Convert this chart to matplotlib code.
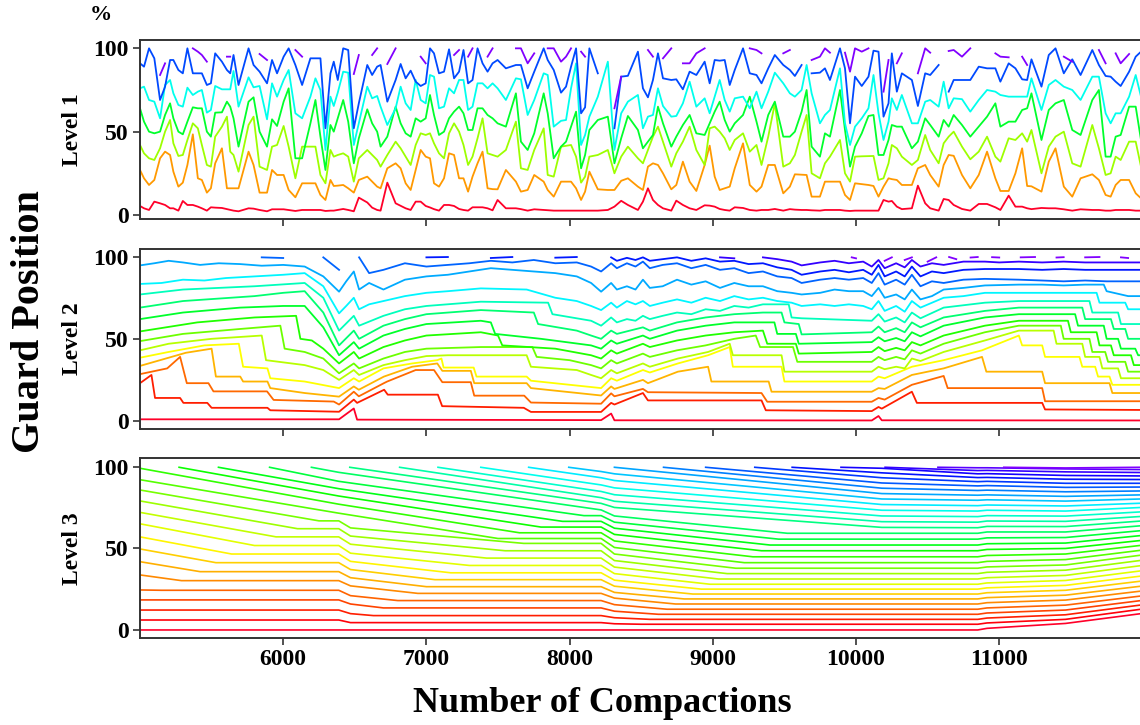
import numpy as np
import matplotlib
matplotlib.use("Agg")
import matplotlib.pyplot as plt

nan = np.nan

# --- Level 1: 7 guards, values read at a shared set of compaction counts ---
l1_x = [5000, 5028, 5063, 5100, 5140, 5175, 5210, 5233, 5268, 5299, 5331, 5369, 5404, 5432, 5467, 5495,
        5525, 5572, 5607, 5630, 5653, 5688, 5758, 5793, 5835, 5887, 5922, 5957, 6003, 6038, 6085, 6132,
        6190, 6225, 6260, 6295, 6330, 6353, 6381, 6419, 6454, 6493, 6528, 6587, 6621, 6656,
        6680, 6727, 6785, 6820, 6855, 6890, 6925, 6960, 6995, 7025, 7053, 7088, 7123, 7158, 7193, 7228,
        7259, 7291, 7322, 7357, 7392, 7427, 7462, 7497, 7555, 7625, 7660, 7707, 7753, 7819, 7847, 7889,
        7940, 7975, 8010, 8045, 8080, 8108, 8138, 8197, 8267, 8313, 8360, 8407, 8477, 8512, 8547, 8582,
        8617, 8652, 8710, 8745, 8791, 8838, 8885, 8943, 8978, 9013, 9048, 9083, 9118, 9153, 9211, 9258, 9305,
        9340, 9387, 9433, 9492, 9538, 9573, 9620, 9655, 9690, 9748, 9783, 9818, 9888, 9923, 9958, 9993,
        10040, 10087, 10122, 10157, 10192, 10227, 10250, 10285, 10320, 10390, 10432, 10483, 10518, 10577,
        10612, 10647, 10682, 10740, 10798, 10857, 10915, 10973, 11008, 11066, 11113, 11160, 11195, 11225,
        11295, 11346, 11393, 11451, 11510, 11568, 11650, 11696, 11743, 11778, 11813, 11848, 11907, 11953, 11990]

l1_g1 = [5.4, 4, 3, 8, 7, 6, 4, 4, 2.6, 8.4, 6, 6, 5, 4, 2.6, 4.6, 4.4, 4.2, 3.5, 3, 2.6, 2.2, 4, 3.8, 3,
         2.2, 3.4, 3.4, 3.4, 3, 2.4, 3, 3, 3, 3, 2.4, 2.6, 2.6, 3, 3.6, 3, 2.2, 10.4, 7.5, 4.4, 3,
         2.6, 19.4, 7, 5.5, 4, 3, 8, 8, 5.4, 4.5, 3.5, 2.6, 6, 6, 5.4, 3.6, 3, 2.6, 4.6, 4.6, 4.6, 4, 2.8,
         9, 4, 4, 3.5, 2.6, 3.4, 3, 2.8, 2.6, 2.6, 2.6, 2.6, 2.6, 2.6, 2.6, 2.6, 2.6, 3, 5, 8.5, 6, 3,
         8, 16, 9, 6, 4, 2.6, 8.6, 6, 4, 3, 5.8, 5.6, 5, 3.6, 3, 2.6, 4.6, 4.2, 3, 2.6,
         3, 3, 3.6, 2.6, 3.5, 3.2, 3, 3, 2.8, 2.6, 3, 3, 3, 2.6, 2.4, 2.6, 2.6, 2.6, 2.6, 2.6, 9, 8, 8.4,
         5, 3.5, 4, 17.6, 7, 4, 2.6, 9.6, 9, 6, 3.6, 2.6, 6.6, 6.6, 4.6, 3, 11.6, 5, 5, 4, 3.5, 4.2, 4, 4,
         3.4, 2.6, 3.4, 3, 3, 2.6, 2.6, 3, 3, 3, 2.6, 2.6]
l1_g2 = [27, 22, 18, 21, 34, 38, 36, 26, 17, 19.4, 30, 48.4, 22, 21, 13.4, 16, 31, 40, 16, 16, 16, 16, 38,
         30, 13.4, 13.4, 27, 24, 24, 15, 10.6, 19, 19, 19, 12, 9, 21, 17.4, 17.6, 18, 16, 13.4, 21, 23, 20, 17,
         16, 28, 31, 28, 19, 15, 27, 39, 35, 34, 19, 17, 22, 37, 36, 22, 22, 14, 23, 31, 38, 16, 15.5, 15.4,
         27, 20, 14, 15, 24, 20, 15, 11, 20, 20, 20, 16, 9, 14, 26, 15.4, 15, 15, 20.5, 22, 17, 15, 29, 31,
         30, 25, 15.4, 18, 32, 20, 14.4, 30, 41.6, 23, 15, 16, 17, 28, 43, 18, 14,
         17, 30, 30, 13, 17, 24.4, 24.2, 24, 11, 11, 20, 20, 20, 12, 9, 19, 18.5, 18, 17.4, 11, 17, 22, 21.5,
         21, 18, 18, 28, 30, 24, 17, 30, 36, 35.5, 24, 16, 24, 38, 22, 14.4, 14.4, 25, 40, 17.4, 17.2, 14,
         32, 40, 17, 11, 22, 24.4, 21, 12, 11, 18, 21, 21, 13, 10]
l1_g3 = [42, 37, 34, 33, 40, 50, 57, 43, 35.4, 36, 45, 55, 52, 42, 30, 29, 47, 53, 59, 38, 36, 26, 54, 59,
         29, 27, 41, 42, 53.4, 41, 22, 41, 41, 41, 24, 19, 39, 35, 36, 37, 35, 20, 34, 39, 36, 33,
         29, 36, 44, 40, 35, 30, 42, 49, 48, 49, 43, 37, 34, 49, 55, 50, 42, 30, 35, 46, 58, 37, 36, 35,
         39, 56, 28, 27, 39, 52, 24, 23, 41, 41.5, 42, 35, 19.4, 23, 35, 36, 39, 25, 35, 41, 34, 31, 39, 47,
         53, 44, 29, 37, 44, 53, 39, 30, 52, 53, 50, 46, 39, 45, 49, 38, 42,
         30, 47, 67, 29, 31, 36, 50, 60, 25, 22, 31, 35, 45, 25, 20, 35, 35.2, 35.3, 35.4, 21, 22, 31, 42,
         40, 35, 30, 33, 48, 39, 31, 43, 47, 50, 41, 33.4, 38, 47, 35, 32, 46, 45, 49, 44, 51, 25,
         41, 47, 50, 31, 29, 54, 40, 24, 25, 35, 33, 44, 44, 29]
l1_g4 = [64, 56, 50, 49, 50, 60, 67, 58, 50, 48.4, 56, 64.6, 64, 64, 50, 47, 61.4, 61.6, 68, 65, 58, 41,
         68, 70.6, 50, 41, 57.4, 53.4, 68, 76, 34, 34, 55, 69, 47, 27, 54, 50, 58, 69, 56, 31, 46, 63.4, 55, 50,
         41, 47, 65, 55, 49, 47, 58, 56, 58, 72, 60, 48, 50, 58, 62, 65, 61, 51, 51, 64, 64, 60, 58, 55,
         53, 73, 44, 39, 49, 73, 61, 34, 41, 44, 53, 62, 28, 36, 51, 57, 59, 31, 46, 59.4, 51, 40, 44, 48,
         65, 55, 41, 47, 54, 60, 49, 48, 55, 62, 68, 57, 50, 55, 60, 71, 56,
         44, 60, 68, 47, 47, 50, 62, 75, 41, 35, 49, 47, 75, 51, 29, 41, 49, 59.4, 60, 36, 36, 45, 54,
         53, 53, 40, 44, 58, 54, 47, 57, 53, 60, 54, 47, 53, 59, 67, 53, 56, 56, 63, 64, 73, 45,
         63, 67, 69, 51, 48, 69, 75, 35, 35, 47, 48, 65, 65, 45]
l1_g5 = [76, 77, 69, 68, 58, 78, 81, 73, 66, 65, 76.4, 72, 74, 75, 61.4, 63, 77.4, 75.4, 75.4, 75.4, 86.4,
         65, 82.6, 76.6, 77.4, 57.4, 79, 71, 81, 87, 61, 58, 71, 82, 75, 39, 71, 65.4, 73.4, 86, 85.4, 42,
         55, 77, 70, 71.4,
         65, 54, 64, 77, 67, 63, 81, 69, 67, 84, 83, 64, 65, 76, 73, 81, 81, 63, 65, 79, 79, 76, 79, 76,
         69, 82, 81.4, 60, 69, 85, 84, 53, 56.5, 57, 76, 91, 42, 48, 59, 71, 92, 39, 61, 68, 72, 52, 59, 60,
         76, 65.4, 59, 59.4, 67, 80, 65, 70, 61, 71, 81, 69, 62, 70, 71, 64, 74,
         64, 74, 85.4, 79, 73, 71, 75, 90, 73, 55, 60, 63, 88, 55, 42, 53, 58, 64, 84, 61, 45, 56, 70,
         63, 72, 55, 55, 68, 69, 65, 80, 64, 70, 69.5, 62, 69, 75, 74, 72, 71, 71, 71, 71, 82, 63,
         78, 81, 77, 75, 69, 83, 83, 61, 55, 61, 61, 71, 84, 71]
l1_g6 = [91, 89, 100, 94, 69, 77, 93, 93, 87, 85, 100, 85, 85, 85, 78, 79, 97, 92, 87, 85, 96, 78, 100, 90,
         86, 79, 93, 85, 95, 100, 90, 78, 94, 94, 94, 52, 85, 92, 81, 100, 99, 52, 67, 90, 84, 89,
         90, 68, 81, 90.6, 82, 86.6, 80, 77.4, 79, 100, 97, 85, 86, 99.4, 82, 86, 99, 79, 81, 100, 91, 86,
         91, 93, 88, 90, 90, 76, 86, 100, 93, 87, 73.4, 77, 89, 100, 61, 64.6, 100, 85, nan, 52, 83, 83.5,
         98, 76, 70.6, 81, 97, 82, 81, 81.4, 75.4, 86, 84, 92, 79, 93, 92.6, 93, 78, 87, 100, 85, 84,
         79, 88, 96, 90, 87, 83.4, 90, nan, 85, 85.4, 88, 81, 100, 88, 55, 83, 77.4, 83, 98.6, 98, 59, 67,
         97, 74, 85, 81, 65.4, 85, 84, 90, nan, 74, 81, 81, 81, 89, 88, 88, 80, 91, 88, 81.4, 81, 93.4, 77,
         96, 100, 85, 93.4, 84, 99, 90, 83.4, 83, 80, 77.4, 86, 95, 98]
l1_g7 = [nan, nan, nan, nan, 84, 91, nan, nan, nan, nan, nan, 100, 98, 96, 92, nan, nan, nan, 95, 95,
         nan, nan, nan, nan, 96.6, 93, nan, nan, nan, nan, 99, 95, nan, nan, nan, nan, nan, nan, nan, nan,
         nan, 84.6, 96, nan, 96, 100,
         nan, 90.6, 100, nan, nan, nan, nan, 95, 91, nan, nan, nan, nan, nan, 96, 99, nan, 95, 100, nan,
         nan, 95, 100, nan, nan, 100, 100, 91, 97, nan, 100, 100, 92, 95, 100, nan, 98, 95, nan, nan,
         nan, 64, 83, nan, nan, nan, 99, 95, nan, 94, 100, nan, 91, 91, 97, 100, nan, nan, nan, nan,
         nan, nan, nan, 100, 99,
         97, nan, nan, 97, 99, nan, nan, nan, 93, 95, 100, 97.4, nan, 97.4, 86, 100, 98, 100, nan, nan,
         74, 93, nan, 91, 97, nan, 85, 100, 97.4, nan, nan, 98.4, 99, 95, 100, nan, nan, 97, 95, 94.6,
         nan, 95, 90, nan, nan, nan, nan, 95, 92, nan, nan, 99, 91, nan, 97, 91, 96.6, nan, nan]

# --- Level 2: 17 guards, each as (compactions, position %) breakpoints ---
l2_g0 = ([5000, 6390, 6493, 6516, 8220, 8290, 8313, 10110, 10157, 10180, 11990],
         [1, 1, 7.6, 0.8, 0.5, 4.5, 0.4, 0.3, 3, 0.4, 0.3])
l2_g1 = ([5000, 5080, 5105, 5280, 5303, 5470, 5500, 5890, 5910, 6390, 6493, 6516, 6705, 6730, 7080, 7110,
          7680, 7730, 8220, 8290, 8313, 8512, 8547, 9340, 9370, 10110, 10157, 10180, 10390, 10425, 11300,
          11320, 11990],
         [23, 28, 14, 14, 11, 11, 8, 8, 6.5, 5.6, 13, 11, 19, 16, 16, 9, 8, 5.5, 5.5, 11, 10, 17, 12.5,
          12.5, 6.5, 6, 8.5, 7.5, 17.8, 11, 11, 7, 6.7])
l2_g2 = ([5000, 5190, 5280, 5327, 5478, 5513, 5887, 5933, 6353, 6390, 6493, 6528, 6703, 6726, 6925, 7053,
          7111, 7310, 7334, 7683, 7730, 8220, 8290, 8313, 8512, 8547, 9340, 9380, 10110, 10157, 10200,
          10390, 10612, 10640, 11300, 11320, 11990],
         [28.5, 32, 39, 23, 23, 18, 18, 12.8, 11.8, 10, 17.8, 15, 23, 24, 31, 31, 23.6, 23.6, 15.4, 15.4,
          11.2, 10.5, 16.8, 15, 19.5, 17.5, 17, 11.7, 11.7, 14, 13, 22, 27.4, 20, 20, 12, 12])
l2_g3 = ([5000, 5100, 5320, 5500, 5530, 5700, 5720, 5890, 5910, 6150, 6390, 6493, 6528, 6703, 6900, 7076,
          7111, 7310, 7334, 7700, 7730, 8220, 8290, 8313, 8512, 8547, 8756, 8967, 8990, 9390, 9410, 10110,
          10157, 10200, 10390, 10612, 10880, 10910, 11300, 11320, 11770, 11790, 11990],
         [33.5, 36, 41.5, 44, 27, 27, 24, 24, 20, 17, 14.8, 21, 19, 27, 33, 35, 30.5, 30.5, 23, 23, 20,
          15.5, 21, 19.5, 25, 23, 30, 33, 24, 24, 17.8, 17.8, 20, 19.5, 28, 32, 39, 30, 30, 23, 23, 17, 17])
l2_g4 = ([5000, 5200, 5450, 5690, 5720, 5890, 5910, 6150, 6390, 6493, 6530, 6700, 6900, 7076, 7105, 7120,
          7330, 7350, 7700, 7730, 8220, 8290, 8330, 8512, 8560, 8756, 8967, 9118, 9140, 9480, 9500, 10110,
          10157, 10200, 10390, 10612, 10880, 11137, 11160, 11300, 11320, 11560, 11580, 11670, 11690, 11770,
          11790, 11990],
         [38.5, 42, 46, 47, 33, 32, 26, 24, 20, 26, 24, 32, 35, 37, 38, 32.5, 32.5, 27, 27, 24.5, 20, 26,
          24.5, 31, 29.5, 35, 40, 45, 33, 33, 24, 24, 27, 26, 33, 37, 43, 52, 46, 46, 39, 39, 33, 33, 27,
          27, 22, 22])
l2_g5 = ([5000, 5200, 5500, 5850, 5880, 6150, 6280, 6390, 6493, 6530, 6700, 6850, 7000, 7150, 7700, 7730,
          8050, 8150, 8220, 8290, 8330, 8512, 8560, 8756, 8967, 9118, 9140, 9480, 9500, 10110, 10157, 10200,
          10280, 10340, 10390, 10450, 10612, 10900, 11137, 11380, 11400, 11580, 11600, 11700, 11720, 11830,
          11850, 11990],
         [43, 47, 50, 52, 37, 34, 31, 25, 31, 28, 34, 37, 39.5, 40, 40, 33, 31, 28, 26, 31, 29, 35, 33, 38,
          42, 47, 40, 40, 30, 30, 33, 31.5, 33, 32, 38, 36.5, 42, 49, 55, 55, 47, 47, 39, 39, 32, 32, 26, 26])
l2_g6 = ([5000, 5300, 5700, 5980, 6010, 6150, 6280, 6390, 6493, 6530, 6700, 6850, 7000, 7380, 7740, 7770,
          8000, 8150, 8220, 8290, 8330, 8512, 8560, 8750, 8950, 9150, 9300, 9330, 9560, 9590, 10110, 10157,
          10200, 10280, 10340, 10390, 10450, 10612, 10900, 11137, 11430, 11450, 11630, 11650, 11740, 11760,
          11880, 11900, 11990],
         [48.6, 53, 56, 58, 44, 42, 38, 29, 35, 32, 38, 42, 44, 45, 45, 39, 37, 34, 32, 37, 35, 41, 39, 43,
          46, 50, 52, 45, 45, 36, 36, 39, 37, 39, 37.5, 43, 41, 47, 54, 58, 58, 50, 50, 42, 42, 36, 36, 30, 30])
l2_g7 = ([5000, 5400, 5800, 6090, 6120, 6200, 6280, 6390, 6493, 6530, 6700, 6850, 7000, 7380, 7500, 7530,
          7900, 8150, 8220, 8290, 8330, 8512, 8560, 8750, 8950, 9150, 9350, 9380, 9580, 9600, 10110, 10157,
          10200, 10280, 10340, 10390, 10450, 10612, 10900, 11137, 11480, 11500, 11680, 11700, 11780, 11800,
          11920, 11940, 11990],
         [54.5, 60, 63, 64, 50, 49, 44, 35, 42, 38, 45, 49, 52, 54, 52, 46, 44, 40, 38, 43, 41, 47, 45, 49,
          52, 54, 55, 47, 47, 41, 42, 45, 42.5, 44.5, 43, 48, 46, 52, 58, 61, 61, 54, 54, 46, 46, 40, 40,
          34, 34])
l2_g8 = ([5000, 5300, 5700, 6000, 6150, 6280, 6390, 6493, 6530, 6700, 6850, 7000, 7380, 7450, 7480, 7800,
          8150, 8220, 8290, 8330, 8512, 8560, 8750, 8950, 9150, 9430, 9450, 9580, 9600, 10110, 10157, 10200,
          10280, 10340, 10390, 10450, 10612, 10900, 11137, 11530, 11550, 11730, 11750, 11830, 11850, 11950,
          11970, 11990],
         [62, 66, 69, 70, 70, 57, 40, 48, 44, 52, 56, 59, 61, 60, 53, 50, 46, 44, 49, 47, 52, 50, 55, 58,
          60, 60, 53, 53, 47, 48, 51, 48.5, 50.5, 48.5, 54, 51.5, 58, 63, 65, 65, 58, 58, 50, 50, 44, 44,
          40, 40])
l2_g9 = ([5000, 5300, 5800, 6000, 6150, 6280, 6390, 6493, 6530, 6700, 6850, 7000, 7380, 7750, 7780, 8050,
          8150, 8220, 8290, 8330, 8512, 8560, 8750, 8950, 9150, 9350, 9480, 9500, 9600, 9620, 10110, 10157,
          10200, 10280, 10340, 10390, 10450, 10612, 10900, 11137, 11580, 11600, 11780, 11800, 11880, 11900,
          11990],
         [69, 73, 76, 78, 79, 66, 46, 55, 50, 58, 62, 65, 67.5, 66, 59, 55, 52, 50, 55, 53, 57, 55, 60, 63,
          65, 66, 66, 60, 59, 52.7, 54, 57.5, 54, 56.5, 54, 60, 57, 63, 67, 69, 69, 62, 62, 56, 56, 50, 50])
l2_g10 = ([5000, 5300, 5800, 6150, 6280, 6390, 6493, 6530, 6700, 6850, 7000, 7380, 7850, 7880, 8150, 8220,
           8290, 8330, 8400, 8460, 8512, 8560, 8650, 8750, 8850, 8950, 9050, 9150, 9250, 9350, 9530, 9550,
           9620, 10110, 10157, 10200, 10280, 10340, 10390, 10450, 10612, 10900, 11137, 11630, 11650, 11830,
           11850, 11990],
          [77, 80, 82, 84, 75, 55, 64, 58, 64, 68, 70, 72.6, 72, 65, 61, 58, 63, 60, 62, 61, 64, 62, 64, 66,
           65, 68, 67, 70, 69, 71, 71, 63, 62.5, 61, 65, 60.5, 63, 60, 66, 62.5, 69, 72, 73, 73, 66, 66,
           59, 59])
l2_g11 = ([5000, 5150, 5300, 5450, 5600, 5800, 6000, 6150, 6280, 6390, 6440, 6493, 6530, 6600, 6700, 6850,
           7000, 7150, 7380, 7700, 7900, 8050, 8150, 8220, 8290, 8330, 8400, 8460, 8512, 8560, 8650, 8750,
           8850, 8950, 9050, 9150, 9250, 9350, 9450, 9550, 9620, 9750, 9850, 9950, 10050, 10110, 10157,
           10200, 10280, 10340, 10390, 10450, 10612, 10750, 10900, 11137, 11680, 11700, 11880, 11900, 11990],
          [83.4, 84, 86, 85.5, 87, 88, 89, 90, 82, 65.5, 70, 75, 68, 71, 73, 76, 78, 79, 80.7, 80, 75, 73,
           70, 67.5, 72, 69, 73, 71, 73, 70, 72, 74, 72, 75, 73, 76, 74, 75, 73, 72, 70, 71, 70, 71, 70, 68,
           73, 67, 70, 66.5, 73, 69, 75, 76, 78, 78, 78, 72, 72, 68, 68])
l2_g12 = ([5000, 5100, 5200, 5300, 5420, 5550, 5700, 5850, 6000, 6150, 6280, 6390, 6440, 6493, 6530, 6600,
           6700, 6850, 7000, 7150, 7300, 7450, 7600, 7750, 7900, 8050, 8150, 8220, 8290, 8330, 8400, 8460,
           8512, 8560, 8650, 8750, 8850, 8950, 9050, 9150, 9250, 9350, 9450, 9550, 9620, 9750, 9850, 9950,
           10050, 10110, 10157, 10200, 10280, 10340, 10390, 10450, 10530, 10612, 10750, 10900, 11137, 11300,
           11450, 11600, 11730, 11750, 11900, 11990],
          [94.7, 96, 97.5, 96.5, 95, 96, 95.5, 94.5, 95, 94, 88, 78.7, 85, 91, 80, 84, 80, 86, 88, 89, 91,
           93, 92, 91, 90, 88, 84, 78.7, 84, 80, 82, 80, 86, 81, 82, 86, 83, 85, 81, 84, 82, 82, 79, 78, 77,
           78, 80, 79, 79, 76, 81, 75, 77, 74, 80, 74, 76, 80, 81, 82.5, 83, 83, 82.5, 83, 83, 79, 76, 76])
l2_g13 = ([5850, 6000, 6150, 6280, 6390, 6440, 6530, 6600, 6700, 6850, 7000, 7150, 7300, 7450, 7600, 7750,
           7900, 8050, 8150, 8220, 8290, 8330, 8400, 8460, 8512, 8560, 8650, 8750, 8850, 8950, 9050, 9150,
           9250, 9350, 9450, 9550, 9620, 9750, 9850, 9950, 10050, 10110, 10157, 10200, 10280, 10340, 10390,
           10450, 10530, 10612, 10750, 10900, 11137, 11300, 11450, 11600, 11750, 11900, 11990],
          [99.6, 99.2, nan, 99.6, 92, nan, 99.6, 90, 92, 96, 94, 95, 96, 97.5, 96.5, 98, 96, 96.5, 94, 91,
           96, 93, 96, 94, 97, 93, 95, 96, 93, 95, 92, 93, 90, 91, 88, 87, 84, 86, 87, 86, 87, 84, 90, 83,
           86, 83, 89, 82, 85, 84, 86, 86.5, 86, 85.5, 85, 85.5, 85, 85, 85])
l2_g14 = ([7000, 7150, 7300, 7450, 7600, 7750, 7900, 8050, 8150, 8220, 8290, 8330, 8400, 8460, 8512, 8560,
           8650, 8750, 8850, 8950, 9050, 9150, 9250, 9350, 9450, 9550, 9620, 9750, 9850, 9950, 10050, 10110,
           10157, 10200, 10280, 10340, 10390, 10450, 10530, 10612, 10750, 10900, 11137, 11300, 11450, 11600,
           11750, 11900, 11990],
          [99.6, 99.8, nan, 99.2, 99.8, nan, 99.4, 99.8, nan, nan, 99.6, 97.5, 99.3, 98, 99.6, 97.5, 98.5,
           99.6, 97.5, 99, 97, 97.5, 95.5, 96, 93.5, 92, 89, 91, 92, 90.5, 92, 89, 95, 88, 91, 88, 94, 88,
           91, 90, 92, 92.5, 92.5, 92, 92.5, 92, 92, 92, 92])
l2_g15 = ([9050, 9150, 9250, 9350, 9450, 9550, 9620, 9750, 9850, 9950, 10050, 10110, 10157, 10200, 10280,
           10340, 10390, 10450, 10530, 10612, 10750, 10900, 11000, 11137, 11300, 11450, 11600, 11750, 11900,
           11990],
          [99.6, 99, nan, 99.6, 98.5, 97, 94.7, 96.5, 97.5, 96, 97, 94, 98, 93, 96, 93.5, 98, 94, 96, 95, 97,
           97, 96.5, 97, 96.5, 97, 96.5, 96.5, 96.5, 96.5])
l2_g16 = ([9900, 9970, 10000, 10157, 10200, 10250, 10300, 10340, 10390, 10450, 10500, 10560, 10600, 10650,
           10700, 10750, 10800, 10850, 10900, 10950, 11000, 11100, 11150, 11250, 11300, 11400, 11450, 11550,
           11600, 11700, 11750, 11850, 11900, 11990],
          [nan, 99.6, 99, nan, 97.5, 99.6, nan, 98, 99.6, nan, 97, 99.6, nan, 99.8, 98.5, nan, 99.5, 99.8,
           nan, 99.7, 99.5, nan, 99.6, 99.8, nan, 99.5, 99.7, nan, 99.6, 99.8, nan, 99.6, 99.2, nan])

level2 = [l2_g0, l2_g1, l2_g2, l2_g3, l2_g4, l2_g5, l2_g6, l2_g7, l2_g8, l2_g9, l2_g10, l2_g11,
          l2_g12, l2_g13, l2_g14, l2_g15, l2_g16]

# --- Level 3: 34 guards, new ones enter at the top ---
l3_g0 = ([5000, 10850, 10915, 11463, 11990], [0, 0, 1.0, 4, 10])
l3_g1 = ([5000, 6388, 6470, 8220, 8313, 8500, 10850, 10915, 11463, 11990],
         [6.1, 6.1, 4.5, 4.5, 3.8, 3.5, 3.5, 4.3, 6.5, 12.7])
l3_g2 = ([5000, 6388, 6470, 6630, 8220, 8313, 8560, 10850, 10915, 11463, 11990],
         [12.2, 12.2, 10, 8.8, 8.8, 7.5, 6.5, 6.5, 7.3, 9.3, 15.3])
l3_g3 = ([5000, 6388, 6470, 6700, 8220, 8313, 8620, 10850, 10915, 11463, 11990],
         [18.4, 18.4, 15.9, 13.5, 13.5, 11.5, 9.6, 9.6, 10.4, 12.2, 18])
l3_g4 = ([5000, 5150, 6388, 6470, 6800, 8220, 8313, 8680, 10850, 10915, 11463, 11990],
         [24.5, 24.3, 24.3, 21, 18, 18, 15.5, 12.7, 12.7, 13.5, 15.2, 20.8])
l3_g5 = ([5000, 5290, 6388, 6470, 6940, 8220, 8313, 8740, 10850, 10915, 11463, 11990],
         [33.7, 30.2, 30.2, 27, 22.4, 22.4, 19.5, 15.9, 15.9, 16.7, 18.3, 23.8])
l3_g6 = ([5000, 5420, 6388, 6470, 7000, 8220, 8313, 8800, 10850, 10915, 11463, 11990],
         [41.8, 35.7, 35.7, 32, 26.5, 26.5, 23, 19, 19, 19.8, 21.3, 26.8])
l3_g7 = ([5000, 5530, 6388, 6470, 7060, 8220, 8313, 8860, 10850, 10915, 11463, 11990],
         [49.6, 41.2, 41.2, 37, 30.8, 30.8, 26.8, 22, 22, 22.8, 24.3, 29.9])
l3_g8 = ([5000, 5640, 6388, 6470, 7170, 8220, 8313, 8920, 10850, 10915, 11463, 11990],
         [57, 46.5, 46.5, 42, 35, 35, 30.5, 25, 25, 25.8, 27.3, 33])
l3_g9 = ([5000, 5800, 6388, 6470, 7300, 8220, 8313, 8980, 10850, 10915, 11463, 11990],
         [65, 51.7, 51.7, 47, 39.5, 39.5, 34.5, 28, 28, 28.8, 30.3, 36.2])
l3_g10 = ([5000, 5950, 6388, 6470, 7420, 8220, 8313, 9040, 10850, 10915, 11463, 11990],
          [72, 57, 57, 52.5, 44, 44, 38.5, 31.2, 31.2, 32, 33.4, 39.4])
l3_g11 = ([5000, 6100, 6388, 6470, 7550, 8220, 8313, 9100, 10850, 10915, 11463, 11990],
          [79, 62, 62, 57.5, 48.5, 48.5, 42.5, 34.5, 34.5, 35.3, 36.6, 42.6])
l3_g12 = ([5000, 6250, 6388, 6470, 7680, 8220, 8313, 9160, 10850, 10915, 11463, 11990],
          [85.7, 66.8, 66.8, 62.5, 53, 53, 46.5, 37.8, 37.8, 38.6, 39.8, 45.8])
l3_g13 = ([5000, 6388, 7500, 8220, 8313, 9220, 10850, 10915, 11463, 11990],
          [92, 71.5, 56, 56, 50.5, 41.2, 41.2, 42, 43.1, 48.8])
l3_g14 = ([5000, 6388, 7650, 8220, 8313, 9280, 10850, 10915, 11463, 11990],
          [99, 77, 59.5, 59.5, 54.5, 44.8, 44.8, 45.6, 46.5, 51.8])
l3_g15 = ([5273, 6388, 7800, 8220, 8313, 9340, 10850, 10915, 11463, 11990],
          [99.6, 82, 63, 63, 58.5, 48.5, 48.5, 49.3, 49.9, 54.8])
l3_g16 = ([5548, 6388, 7950, 8220, 8313, 9400, 10850, 10915, 11463, 11990],
          [99.6, 86.5, 66.5, 66.5, 62.3, 52, 52, 52.8, 53.2, 57.8])
l3_g17 = ([5905, 6388, 8100, 8220, 8313, 9460, 10850, 10915, 11463, 11990],
          [99.6, 91, 70, 70, 66, 55.6, 55.6, 56.4, 56.6, 60.8])
l3_g18 = ([6197, 6388, 8220, 8313, 9520, 10850, 10915, 11463, 11990],
          [99.6, 96.5, 73.5, 69.8, 59.2, 59.2, 60, 60, 63.8])
l3_g19 = ([6465, 8220, 8313, 10180, 10850, 10915, 11463, 11990], [99.6, 77.5, 75, 62.8, 62.6, 63.4, 63.3, 66.7])
l3_g20 = ([6813, 8220, 8313, 10180, 10850, 10915, 11463, 11990], [99.6, 81, 78.8, 66.3, 66.0, 66.7, 66.5, 69.5])
l3_g21 = ([7081, 8220, 8313, 10180, 10850, 10915, 11463, 11990], [99.6, 84.8, 82.8, 69.8, 69.4, 70, 69.7, 72.3])
l3_g22 = ([7380, 8220, 8313, 10180, 10850, 10915, 11463, 11990], [99.6, 88.8, 87, 73.3, 72.8, 73.3, 72.8, 75])
l3_g23 = ([7714, 8220, 8313, 10180, 10850, 10915, 11463, 11990], [99.6, 93.2, 91.5, 76.8, 76.1, 76.5, 75.9, 77.6])
l3_g24 = ([7994, 8220, 8313, 10180, 10850, 10915, 11463, 11990], [99.6, 97, 95.6, 80.2, 79.4, 79.7, 78.9, 80.2])
l3_g25 = ([8313, 10180, 10850, 10915, 11463, 11990], [99.6, 83.5, 82.5, 82.7, 81.8, 82.7])
l3_g26 = ([8656, 10180, 10850, 10915, 11463, 11990], [99.6, 86.8, 85.4, 85.6, 84.6, 85.1])
l3_g27 = ([8950, 10180, 10850, 10915, 11463, 11990], [99.6, 90, 88.2, 88.4, 87.3, 87.5])
l3_g28 = ([9293, 10180, 10850, 10915, 11463, 11990], [99.6, 93.2, 90.8, 91, 89.8, 89.8])
l3_g29 = ([9554, 10180, 10850, 10915, 11463, 11990], [99.6, 96.2, 93.3, 93.4, 92.3, 92.1])
l3_g30 = ([9895, 10180, 10850, 10915, 11463, 11990], [99.6, 99, 95.6, 95.7, 94.6, 94.3])
l3_g31 = ([10203, 10850, 10915, 11463, 11990], [99.6, 97.6, 97.7, 96.8, 96.4])
l3_g32 = ([10572, 10850, 10915, 11463, 11990], [99.6, 99.3, 99.3, 98.6, 98.2])
l3_g33 = ([11032, 11463, 11990], [99.6, 99.2, 99.6])

level3 = [l3_g0, l3_g1, l3_g2, l3_g3, l3_g4, l3_g5, l3_g6, l3_g7, l3_g8, l3_g9, l3_g10, l3_g11,
          l3_g12, l3_g13, l3_g14, l3_g15, l3_g16, l3_g17, l3_g18, l3_g19, l3_g20, l3_g21, l3_g22,
          l3_g23, l3_g24, l3_g25, l3_g26, l3_g27, l3_g28, l3_g29, l3_g30, l3_g31, l3_g32, l3_g33]

LEVEL_LIMS = [(-2.6, 105), (-4.9, 104.5), (-5.1, 105.1)]
# axes boxes in pixels of the 1140x725 canvas: (left, top, right, bottom)
BOXES = [(140, 40, 1141, 219.3), (140, 249.3, 1141, 429), (140, 458.3, 1141, 638.3)]
CMAP_TOP = 0.86   # the highest guard of a level is drawn in violet


def main():
    plt.rcParams["font.family"] = ["Liberation Serif", "DejaVu Serif"]
    plt.rcParams["font.weight"] = "bold"

    W, H = 1140, 725
    fig = plt.figure(figsize=(W / 100, H / 100), dpi=100)
    cmap = plt.get_cmap("gist_rainbow")

    axes = [fig.add_axes([l / W, 1 - b / H, (r - l) / W, (b - t) / H]) for (l, t, r, b) in BOXES]

    # level 1 shares one x grid
    lines1 = [(l1_x, ys) for ys in [l1_g1, l1_g2, l1_g3, l1_g4, l1_g5, l1_g6, l1_g7]]
    for ax, lines, lw in zip(axes, [lines1, level2, level3], [1.3, 1.3, 1.2]):
        n = len(lines)
        for i, (xs, ys) in enumerate(lines):
            ax.plot(xs, ys, color=cmap(CMAP_TOP * i / (n - 1)), lw=lw)

    for k, ax in enumerate(axes):
        ax.set_xlim(5000, 11990)
        ax.set_ylim(*LEVEL_LIMS[k])
        ax.set_xticks([6000, 7000, 8000, 9000, 10000, 11000])
        ax.set_yticks([0, 50, 100])
        ax.tick_params(labelsize=17, length=5, width=1.2, color="#333333", pad=3)
        for s in ax.spines.values():
            s.set_linewidth(1.4)
            s.set_color("#333333")
        if k < 2:
            ax.tick_params(labelbottom=False)
        l, t, r, b = BOXES[k]
        fig.text(73 / W, 1 - (t + b) / 2 / H, f"Level {k + 1}", rotation=90,
                 ha="center", va="center", fontsize=17, fontweight="bold")

    fig.text(30 / W, 1 - 322 / H, "Guard Position", rotation=90, ha="center", va="center",
             fontsize=29, fontweight="bold")
    fig.text(101 / W, 1 - 15 / H, "%", ha="center", va="center", fontsize=16, fontweight="bold")
    fig.text(602 / W, 1 - 704 / H, "Number of Compactions", ha="center", va="center",
             fontsize=26, fontweight="bold")

    fig.savefig("out.png", dpi=100)


if __name__ == "__main__":
    main()
